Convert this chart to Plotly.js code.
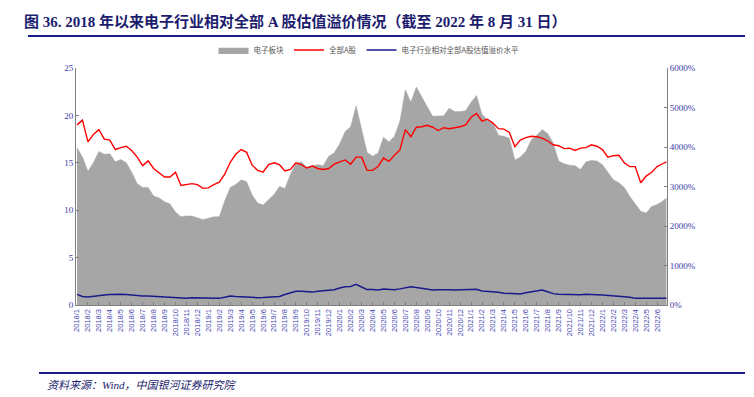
<!DOCTYPE html>
<html>
<head>
<meta charset="utf-8">
<script src="https://cdn.plot.ly/plotly-3.0.1.min.js"></script>
<style>
html,body{margin:0;padding:0;background:#fff;}
#wrap{position:relative;width:754px;height:397px;}
#chart{width:754px;height:397px;}
.rule{position:absolute;background:#1c1c8a;z-index:10;}
</style>
</head>
<body>
<div id="wrap">
<div id="chart"></div>
<div class="rule" style="left:28px;top:35px;width:717px;height:2px;"></div>
<div class="rule" style="left:39px;top:372px;width:706px;height:2px;"></div>
</div>
<script>
// Month tick labels (category axis)
const monthLabels = [
 "2018/1","2018/2","2018/3","2018/4","2018/5","2018/6","2018/7","2018/8","2018/9","2018/10","2018/11","2018/12",
 "2019/1","2019/2","2019/3","2019/4","2019/5","2019/6","2019/7","2019/8","2019/9","2019/10","2019/11","2019/12",
 "2020/1","2020/2","2020/3","2020/4","2020/5","2020/6","2020/7","2020/8","2020/9","2020/10","2020/11","2020/12",
 "2021/1","2021/2","2021/3","2021/4","2021/5","2021/6","2021/7","2021/8","2021/9","2021/10","2021/11","2021/12",
 "2022/1","2022/2","2022/3","2022/4","2022/5","2022/6"
];

// Electronic sector PE (left axis)
const electronics = [
 16.6,15.6,14.1,15.0,16.2,15.9,15.95,15.1,15.35,15.0,
 14.0,12.8,12.4,12.4,11.5,11.3,10.9,10.65,9.8,9.3,
 9.4,9.4,9.2,9.0,9.15,9.3,9.3,11.0,12.4,12.7,
 13.2,13.0,11.6,10.75,10.55,11.1,11.65,12.5,12.3,13.8,
 14.9,15.1,14.5,14.7,14.8,14.7,15.7,16.05,17.0,18.3,
 18.8,21.0,18.5,16.1,15.7,16.0,17.7,17.2,17.8,19.4,
 22.7,21.4,23.0,21.9,20.9,19.9,19.9,19.95,20.75,20.4,
 20.4,20.5,21.4,22.1,20.1,19.55,19.2,17.9,17.8,17.6,
 15.3,15.6,16.2,17.4,17.9,18.5,18.1,17.1,15.2,14.9,
 14.75,14.7,14.3,15.1,15.25,15.2,14.8,14.0,13.2,12.9,
 12.4,11.45,10.7,9.9,9.7,10.4,10.6,10.95,11.3
];

// All A-share PE (left axis)
const allA = [
 19.0,19.5,17.2,18.0,18.5,17.5,17.4,16.4,16.6,16.75,
 16.3,15.6,14.7,15.2,14.4,13.9,13.5,13.5,14.0,12.6,
 12.7,12.8,12.7,12.3,12.35,12.7,12.95,13.8,15.05,15.9,
 16.4,16.1,14.75,14.2,14.0,14.8,15.0,14.8,14.15,14.3,
 15.0,14.8,14.45,14.65,14.4,14.3,14.4,14.85,15.1,15.3,
 14.85,15.6,15.6,14.2,14.2,14.6,15.5,15.15,15.8,16.35,
 18.5,17.75,18.75,18.8,18.95,18.75,18.4,18.7,18.6,18.7,
 18.8,19.0,19.8,20.2,19.4,19.6,19.2,18.6,18.55,18.2,
 16.7,17.4,17.65,17.8,17.75,17.6,17.3,16.9,16.8,16.5,
 16.55,16.3,16.55,16.6,16.9,16.75,16.4,15.6,15.75,15.8,
 15.0,14.6,14.6,12.9,13.6,14.0,14.6,14.9,15.1
];

// Relative valuation premium (%) (right axis)
const premium = [
 270,216,205,225,235,250,265,275,275,265,
 250,230,228,225,215,210,205,195,180,165,
 172,185,180,178,172,168,168,197,228,216,
 205,195,190,185,187,197,206,216,265,300,
 348,348,330,326,348,360,372,384,432,460,
 468,523,456,390,390,380,403,396,384,408,
 444,463,444,420,396,380,384,389,384,380,
 384,380,389,396,353,346,346,324,300,288,
 278,281,312,336,348,379,336,288,271,264,
 257,252,259,269,271,259,252,245,240,228,
 211,197,168,168,168,173,182,173,173
];

// Sampling grid: two readings per month label, last reading on Aug 31
const t = [];
for (let i = 0; i < electronics.length - 1; i++) t.push(i / 2);
t.push(53.85);

const tickVals = monthLabels.map((_, i) => i);

const axisColor = '#3b3ba6';
const serif = '"Liberation Serif", "Noto Sans CJK SC", serif';

const traces = [
 {x: t, y: electronics, type: 'scatter', mode: 'lines', name: '电子板块',
  fill: 'tozeroy', fillcolor: '#a6a6a6', line: {color: '#a6a6a6', width: 0.5}, yaxis: 'y'},
 {x: t, y: allA, type: 'scatter', mode: 'lines', name: '全部A股',
  line: {color: '#ff0000', width: 1.4}, yaxis: 'y'},
 {x: t, y: premium, type: 'scatter', mode: 'lines', name: '电子行业相对全部A股估值溢价水平',
  line: {color: '#1a1a8c', width: 1.5}, yaxis: 'y2'}
];

// page pixel -> paper fraction (margins are zero; the plot area is set by axis domains)
function fx(x) { return x / 754; }
function fy(y) { return 1 - y / 397; }

const layout = {
 width: 754, height: 397,
 margin: {l: 0, r: 0, t: 0, b: 0, pad: 0},
 paper_bgcolor: '#fff', plot_bgcolor: '#fff',
 showlegend: true,
 legend: {orientation: 'h', x: fx(369), y: fy(50), xanchor: 'center', yanchor: 'middle',
  font: {family: '"Noto Sans CJK SC", sans-serif', size: 7.5, color: '#555'},
  itemwidth: 30, tracegroupgap: 0, bgcolor: 'rgba(0,0,0,0)'},
 xaxis: {domain: [fx(76), fx(667)], type: 'linear', range: [-0.09, 53.9], tickmode: 'array', tickvals: tickVals, ticktext: monthLabels,
  tickangle: -90, tickfont: {family: '"Liberation Sans", Arial, sans-serif', size: 7.5, color: '#4646b4'},
  showgrid: false, zeroline: false, showline: true, linecolor: '#808080', linewidth: 1,
  ticks: 'inside', ticklen: 3, tickcolor: '#808080', automargin: false},
 yaxis: {domain: [fy(305), fy(68)], range: [0, 25], dtick: 5, tick0: 0, showgrid: false, zeroline: false,
  showline: true, linecolor: '#808080', linewidth: 1, ticks: 'inside', ticklen: 3, tickcolor: '#808080',
  tickfont: {family: serif, size: 9, color: axisColor}, automargin: false},
 yaxis2: {range: [0, 6000], dtick: 1000, tick0: 0, overlaying: 'y', side: 'right', ticksuffix: '%',
  showgrid: false, zeroline: false, showline: true, linecolor: '#808080', linewidth: 1,
  ticks: 'inside', ticklen: 3, tickcolor: '#808080', anchor: 'x',
  tickfont: {family: serif, size: 9, color: axisColor}, automargin: false},
 annotations: [
  {xref: 'paper', yref: 'paper', x: fx(22), y: fy(22), xanchor: 'left', yanchor: 'middle', showarrow: false,
   text: '<b>图 36. 2018 年以来电子行业相对全部 A 股估值溢价情况（截至 2022 年 8 月 31 日）</b>',
   font: {family: '"Liberation Serif", "Noto Sans CJK SC", serif', size: 15, color: '#1c1c6e'}},
  {xref: 'paper', yref: 'paper', x: fx(45), y: fy(385), xanchor: 'left', yanchor: 'middle', showarrow: false,
   text: '<i>资料来源：Wind，中国银河证券研究院</i>',
   font: {family: '"Liberation Serif", "Noto Sans CJK SC", serif', size: 11, color: '#1c1c6e'}}
 ],
 shapes: [
  {type: 'line', xref: 'paper', yref: 'paper', layer: 'above', x0: fx(28), x1: fx(745), y0: fy(36), y1: fy(36),
   line: {color: '#1c1c8a', width: 2}},
  {type: 'line', xref: 'paper', yref: 'paper', layer: 'above', x0: fx(39), x1: fx(745), y0: fy(373), y1: fy(373),
   line: {color: '#1c1c8a', width: 1.5}}
 ]
};

Plotly.newPlot('chart', traces, layout, {displayModeBar: false, staticPlot: true});
</script>
</body>
</html>
